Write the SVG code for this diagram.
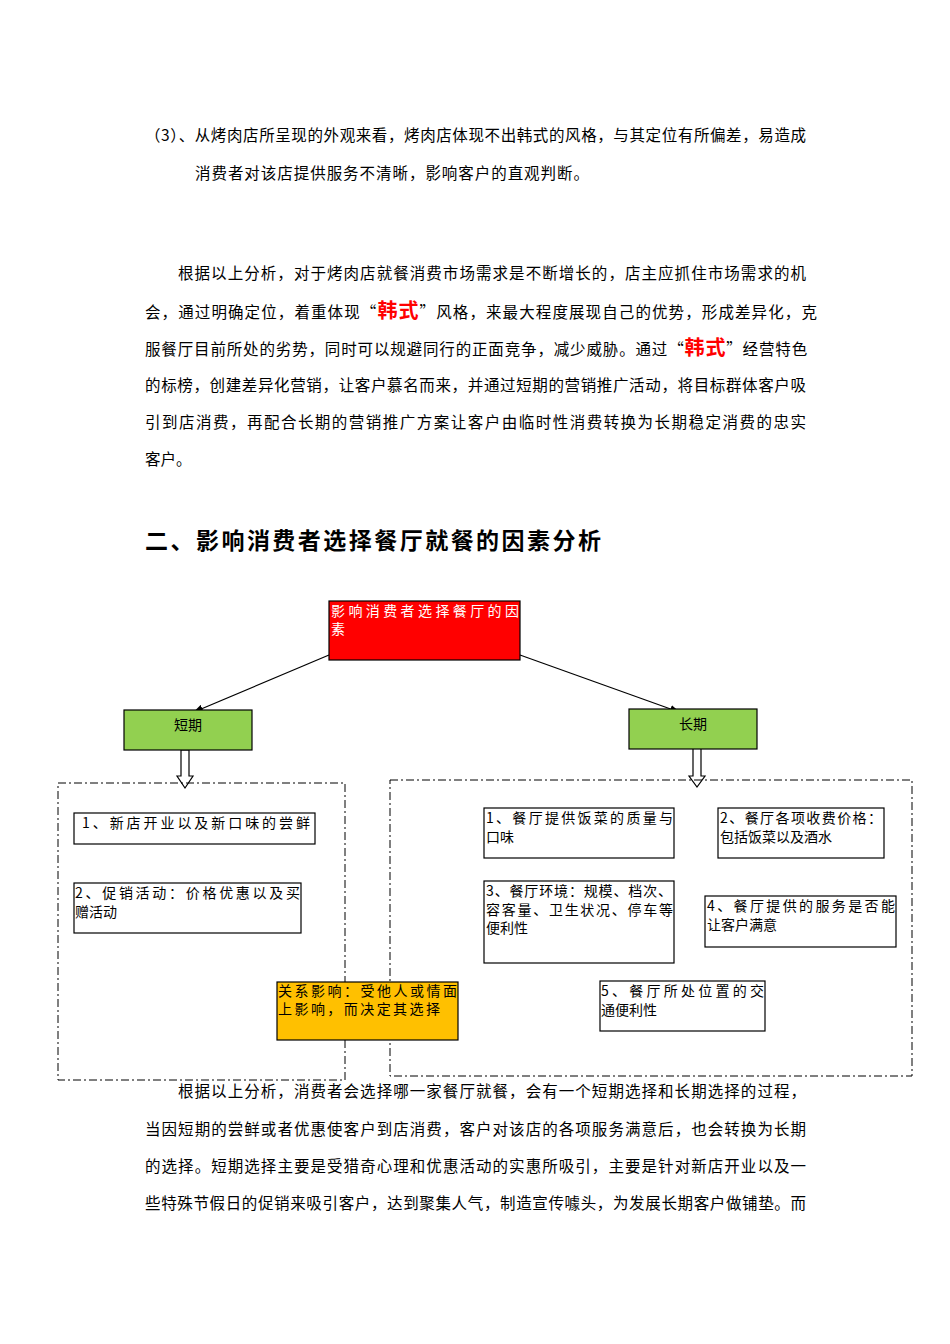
<svg xmlns="http://www.w3.org/2000/svg" width="950" height="1344" viewBox="0 0 950 1344">
<style>
.t{font-family:"Noto Sans CJK SC","Liberation Serif",serif;font-size:15.5px;fill:#000}
.b{font-family:"Noto Sans CJK SC","Liberation Sans",sans-serif;font-size:14px;fill:#000}
.box{fill:#fff;stroke:#000;stroke-width:1.2}
.g{fill:#92d050;stroke:#000;stroke-width:1.2}
.dash{fill:none;stroke:#000;stroke-width:1;stroke-dasharray:8,3,2,3}
.red{fill:#ff0000;font-weight:bold;font-size:20px}
</style>
<defs><marker id="a" markerWidth="10" markerHeight="8" refX="9" refY="4" orient="auto" markerUnits="userSpaceOnUse"><path d="M0,0L10,4L0,8z" fill="#000"/></marker></defs>
<rect width="950" height="1344" fill="#fff"/>
<text class="t" x="145" y="141" textLength="661">（3）、从烤肉店所呈现的外观来看，烤肉店体现不出韩式的风格，与其定位有所偏差，易造成</text>
<text class="t" x="195" y="179" textLength="394">消费者对该店提供服务不清晰，影响客户的直观判断。</text>
<text class="t" x="178" y="279" textLength="628">根据以上分析，对于烤肉店就餐消费市场需求是不断增长的，店主应抓住市场需求的机</text>
<text class="t" x="145" y="318" style="letter-spacing:1.1px">会，通过明确定位，着重体现“<tspan class="red">韩式</tspan>”风格，来最大程度展现自己的优势，形成差异化，克</text>
<text class="t" x="145" y="355" style="letter-spacing:0.85px">服餐厅目前所处的劣势，同时可以规避同行的正面竞争，减少威胁。通过“<tspan class="red">韩式</tspan>”经营特色</text>
<text class="t" x="145" y="391" textLength="661">的标榜，创建差异化营销，让客户慕名而来，并通过短期的营销推广活动，将目标群体客户吸</text>
<text class="t" x="145" y="428" textLength="661">引到店消费，再配合长期的营销推广方案让客户由临时性消费转换为长期稳定消费的忠实</text>
<text class="t" x="145" y="465">客户。</text>
<text x="145" y="549" style="font-family:'Noto Sans CJK SC',sans-serif;font-size:23px;font-weight:bold" textLength="456">二、影响消费者选择餐厅就餐的因素分析</text>

<g id="connectors" stroke="#000" stroke-width="1.2" fill="none">
<line x1="329" y1="655" x2="194" y2="712" marker-end="url(#a)"/>
<line x1="520" y1="655" x2="679" y2="712" marker-end="url(#a)"/>
<path d="M181,750V776H177L185,788L193,776H189V750Z" fill="#fff"/>
<path d="M693,745V776H689L697,787L705,776H701V745Z" fill="#fff"/>
</g>
<g id="root"><rect x="329" y="601" width="191" height="59" fill="#ff0000" stroke="#000" stroke-width="1.2"/>
<text class="b" x="331" y="616" style="fill:#fff" textLength="188">影响消费者选择餐厅的因</text><text class="b" x="331" y="634" style="fill:#fff">素</text></g>
<g id="short"><rect class="g" x="124" y="710" width="128" height="40"/><text class="b" x="188" y="730" text-anchor="middle">短期</text></g>
<g id="long"><rect class="g" x="629" y="709" width="128" height="40"/><text class="b" x="693" y="729" text-anchor="middle">长期</text></g>
<g id="shortGroup"><rect class="dash" x="58" y="783" width="287" height="297"/></g>
<g id="longGroup"><rect class="dash" x="390" y="780" width="522" height="296"/></g>
<g id="s1"><rect class="box" x="74" y="813" width="241" height="31"/><text class="b" x="82" y="828" textLength="228">1、新店开业以及新口味的尝鲜</text></g>
<g id="s2"><rect class="box" x="74" y="883" width="227" height="50"/><text class="b" x="75" y="898" textLength="225">2、促销活动：价格优惠以及买</text><text class="b" x="75" y="917">赠活动</text></g>
<g id="rel"><rect x="277" y="982" width="181" height="58" fill="#ffc000" stroke="#000" stroke-width="1.2"/><text class="b" x="278" y="996" textLength="179">关系影响：受他人或情面</text><text class="b" x="278" y="1014" textLength="162">上影响，而决定其选择</text></g>
<g id="l1"><rect class="box" x="484" y="808" width="190" height="50"/><text class="b" x="486" y="823" textLength="187">1、餐厅提供饭菜的质量与</text><text class="b" x="486" y="842">口味</text></g>
<g id="l2"><rect class="box" x="718" y="808" width="166" height="50"/><text class="b" x="720" y="823" textLength="162">2、餐厅各项收费价格：</text><text class="b" x="720" y="842">包括饭菜以及酒水</text></g>
<g id="l3"><rect class="box" x="484" y="881" width="190" height="82"/><text class="b" x="486" y="896" textLength="186">3、餐厅环境：规模、档次、</text><text class="b" x="486" y="915" textLength="187">容客量、卫生状况、停车等</text><text class="b" x="486" y="933">便利性</text></g>
<g id="l4"><rect class="box" x="705" y="896" width="191" height="51"/><text class="b" x="707" y="911" textLength="188">4、餐厅提供的服务是否能</text><text class="b" x="707" y="930">让客户满意</text></g>
<g id="l5"><rect class="box" x="600" y="981" width="165" height="50"/><text class="b" x="601" y="996" textLength="163">5、餐厅所处位置的交</text><text class="b" x="601" y="1015">通便利性</text></g>

<text class="t" x="178" y="1097" textLength="628">根据以上分析，消费者会选择哪一家餐厅就餐，会有一个短期选择和长期选择的过程，</text>
<text class="t" x="145" y="1135" textLength="661">当因短期的尝鲜或者优惠使客户到店消费，客户对该店的各项服务满意后，也会转换为长期</text>
<text class="t" x="145" y="1172" textLength="661">的选择。短期选择主要是受猎奇心理和优惠活动的实惠所吸引，主要是针对新店开业以及一</text>
<text class="t" x="145" y="1209" textLength="661">些特殊节假日的促销来吸引客户，达到聚集人气，制造宣传噱头，为发展长期客户做铺垫。而</text>
</svg>
